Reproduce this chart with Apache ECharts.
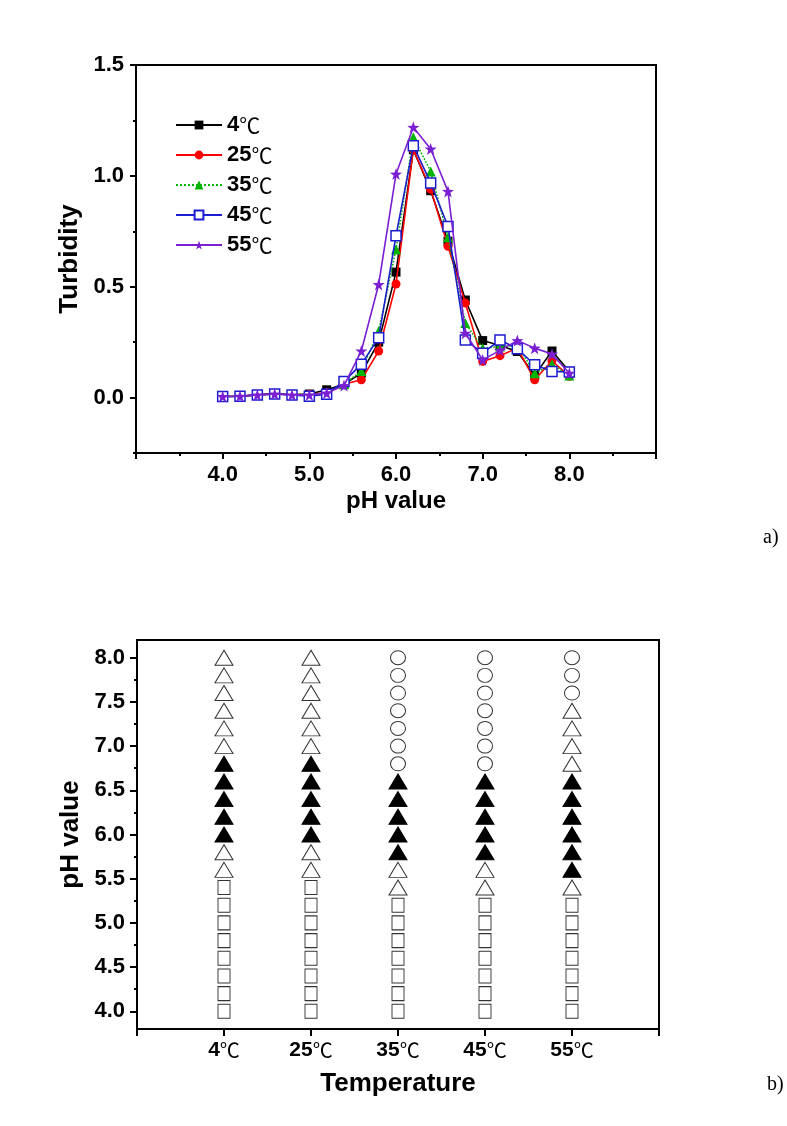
<!DOCTYPE html>
<html>
<head>
<meta charset="utf-8">
<script src="https://cdn.jsdelivr.net/npm/echarts@6/dist/echarts.min.js"></script>
<style>html,body{margin:0;padding:0;background:#fff}#c{width:787px;height:1126px}</style>
</head>
<body>
<div id="c"></div>
<script>
// ---------- Data: panel a) turbidity vs pH ----------
const pH = [4.0,4.2,4.4,4.6,4.8,5.0,5.2,5.4,5.6,5.8,6.0,6.2,6.4,6.6,6.8,7.0,7.2,7.4,7.6,7.8,8.0];
const seriesNames = ['4℃','25℃','35℃','45℃','55℃'];
const turb4  = [0.005,0.006,0.013,0.018,0.013,0.016,0.035,0.060,0.110,0.250,0.566,1.118,0.933,0.705,0.440,0.257,0.235,0.208,0.100,0.210,0.118];
const turb25 = [0.005,0.006,0.012,0.016,0.013,0.015,0.022,0.060,0.080,0.210,0.512,1.118,0.940,0.682,0.426,0.163,0.189,0.223,0.080,0.166,0.096];
const turb35 = [0.005,0.006,0.012,0.016,0.014,0.015,0.020,0.060,0.120,0.300,0.668,1.174,1.020,0.723,0.336,0.223,0.230,0.235,0.110,0.150,0.100];
const turb45 = [0.005,0.006,0.012,0.016,0.012,0.006,0.015,0.073,0.150,0.270,0.730,1.136,0.968,0.772,0.260,0.200,0.260,0.220,0.148,0.118,0.115];
const turb55 = [0.005,0.006,0.012,0.016,0.012,0.012,0.020,0.054,0.210,0.510,1.008,1.219,1.121,0.930,0.290,0.170,0.213,0.257,0.223,0.196,0.110];
const xTicksA = [4,5,6,7,8];
const yLabelsA = [0, 0.5, 1.0, 1.5];
const yMinorA = [-0.25, 0.25, 0.75, 1.25];

// ---------- Data: panel b) phase state per temperature ----------
// S = open square, T = open triangle, F = filled triangle, C = open circle (pH 4.0 .. 8.0, step 0.2)
const tempLabels = ['4℃','25℃','35℃','45℃','55℃'];
const state4  = ['S','S','S','S','S','S','S','S','T','T','F','F','F','F','F','T','T','T','T','T','T'];
const state25 = ['S','S','S','S','S','S','S','S','T','T','F','F','F','F','F','T','T','T','T','T','T'];
const state35 = ['S','S','S','S','S','S','S','T','T','F','F','F','F','F','C','C','C','C','C','C','C'];
const state45 = ['S','S','S','S','S','S','S','T','T','F','F','F','F','F','C','C','C','C','C','C','C'];
const state55 = ['S','S','S','S','S','S','S','T','F','F','F','F','F','F','T','T','T','T','C','C','C'];
const yLabelsB = [4.0,4.5,5.0,5.5,6.0,6.5,7.0,7.5,8.0];
const yMinorB = [4.25,4.75,5.25,5.75,6.25,6.75,7.25,7.75];

// ---------- build ----------
const FONT = 'Liberation Sans, Arial, sans-serif';
const CFONT = 'Noto Sans CJK SC';
const richLegend = {
  n: {fontFamily: FONT, fontWeight: 'bold', fontSize: 22, color: '#000'},
  c: {fontFamily: CFONT, fontWeight: 'normal', fontSize: 21, color: '#000'}
};
const richTick = {
  n: {fontFamily: FONT, fontWeight: 'bold', fontSize: 21, color: '#000'},
  c: {fontFamily: CFONT, fontWeight: 'normal', fontSize: 20, color: '#000'}
};
function tempRich(s) { return '{n|' + s.replace('℃','') + '}{c|℃}'; }

const turbData = [turb4, turb25, turb35, turb45, turb55];
const colors = ['#000000', '#ff0000', '#00b400', '#1c1cd0', '#7a1fd2'];
const symbols = ['rect', 'circle', 'triangle', 'rect', 'path://M0,-10L2.35,-3.24L9.51,-3.09L3.8,1.24L5.88,8.09L0,4L-5.88,8.09L-3.8,1.24L-9.51,-3.09L-2.35,-3.24Z'];
const symSizes = [9, 9, 10, 10, 12];

const seriesA = turbData.map((arr, i) => ({
  name: seriesNames[i],
  type: 'line',
  xAxisIndex: 0, yAxisIndex: 0,
  data: pH.map((p, j) => [p, arr[j]]),
  symbol: symbols[i],
  symbolSize: symSizes[i],
  showSymbol: true,
  lineStyle: {color: colors[i], width: 1.6, type: i === 2 ? 'dotted' : 'solid'},
  itemStyle: i === 3 ? {color: '#ffffff', borderColor: colors[i], borderWidth: 1.5}
                     : {color: colors[i], borderColor: colors[i], borderWidth: 0},
  emphasis: {disabled: true},
  z: 3 + i
}));

const states = [state4, state25, state35, state45, state55];
function pts(code) {
  const out = [];
  states.forEach((col, k) => col.forEach((s, j) => { if (s === code) out.push([k + 1, pH[j]]); }));
  return out;
}
const seriesB = [
  {type: 'scatter', xAxisIndex: 1, yAxisIndex: 2, data: pts('S'), symbol: 'rect', symbolSize: [12, 14],
   itemStyle: {color: '#fff', borderColor: '#000', borderWidth: 1}},
  {type: 'scatter', xAxisIndex: 1, yAxisIndex: 2, data: pts('T'), symbol: 'triangle', symbolSize: [18, 15],
   itemStyle: {color: '#fff', borderColor: '#000', borderWidth: 1}},
  {type: 'scatter', xAxisIndex: 1, yAxisIndex: 2, data: pts('F'), symbol: 'triangle', symbolSize: [18, 15],
   itemStyle: {color: '#000', borderColor: '#000', borderWidth: 1, opacity: 1}},
  {type: 'scatter', xAxisIndex: 1, yAxisIndex: 2, data: pts('C'), symbol: 'circle', symbolSize: [15, 14],
   itemStyle: {color: '#fff', borderColor: '#000', borderWidth: 1}}
].map(s => Object.assign(s, {emphasis: {disabled: true}, silent: true}));

const axisLine = {show: true, onZero: false, lineStyle: {color: '#000', width: 2}};
const labelStyle = {fontFamily: FONT, fontWeight: 'bold', fontSize: 22, color: '#000'};
const nameStyle = {fontFamily: FONT, fontWeight: 'bold', fontSize: 26, color: '#000'};

const option = {
  animation: false,
  backgroundColor: '#fff',
  grid: [
    {left: 136, top: 65, width: 520, height: 388, show: true, borderColor: '#000', borderWidth: 2, backgroundColor: 'transparent'},
    {left: 137, top: 640, width: 522, height: 389, show: true, borderColor: '#000', borderWidth: 2, backgroundColor: 'transparent'}
  ],
  legend: {
    orient: 'vertical', left: 170, top: 109,
    data: seriesNames,
    itemWidth: 46, itemHeight: 11, itemGap: 8,
    formatter: tempRich,
    textStyle: {lineHeight: 22, rich: richLegend},
    selectedMode: false
  },
  xAxis: [
    {gridIndex: 0, type: 'value', min: 3, max: 9, interval: 1,
     axisLine: axisLine,
     axisTick: {show: true, inside: false, length: 6, lineStyle: {color: '#000', width: 2}},
     minorTick: {show: true, splitNumber: 2, length: 3, lineStyle: {color: '#000', width: 2}},
     splitLine: {show: false}, minorSplitLine: {show: false},
     axisLabel: Object.assign({margin: 11, showMinLabel: true, showMaxLabel: true,
       formatter: v => (xTicksA.indexOf(v) >= 0 ? v.toFixed(1) : '')}, labelStyle),
     name: 'pH value', nameLocation: 'middle', nameGap: 36, nameTextStyle: Object.assign({}, nameStyle, {fontSize: 24})},
    {gridIndex: 1, type: 'value', min: 0, max: 6, interval: 1,
     axisLine: axisLine,
     axisTick: {show: true, inside: false, length: 7, lineStyle: {color: '#000', width: 2}},
     splitLine: {show: false},
     axisLabel: {margin: 11, formatter: v => (v >= 1 && v <= 5 ? tempRich(tempLabels[v - 1]) : ''), rich: richTick},
     name: 'Temperature', nameLocation: 'middle', nameGap: 42, nameTextStyle: nameStyle}
  ],
  yAxis: [
    {gridIndex: 0, type: 'value', min: -0.25, max: 1.5,
     axisLine: axisLine,
     axisTick: {show: true, inside: false, length: 6, customValues: yLabelsA, lineStyle: {color: '#000', width: 2}},
     splitLine: {show: false},
     axisLabel: Object.assign({margin: 12, customValues: yLabelsA, formatter: v => v.toFixed(1)}, labelStyle),
     name: 'Turbidity', nameLocation: 'middle', nameGap: 48, nameTextStyle: nameStyle},
    {gridIndex: 0, type: 'value', min: -0.25, max: 1.5, position: 'left',
     axisLine: {show: false},
     axisTick: {show: true, inside: false, length: 3, customValues: yMinorA, lineStyle: {color: '#000', width: 2}},
     axisLabel: {show: false, customValues: yMinorA}, splitLine: {show: false}},
    {gridIndex: 1, type: 'value', min: 3.8, max: 8.2,
     axisLine: axisLine,
     axisTick: {show: true, inside: false, length: 7, customValues: yLabelsB, lineStyle: {color: '#000', width: 2}},
     splitLine: {show: false},
     axisLabel: Object.assign({margin: 12, customValues: yLabelsB, formatter: v => v.toFixed(1)}, labelStyle),
     name: 'pH value', nameLocation: 'middle', nameGap: 52, nameTextStyle: nameStyle},
    {gridIndex: 1, type: 'value', min: 3.8, max: 8.2, position: 'left',
     axisLine: {show: false},
     axisTick: {show: true, inside: false, length: 3, customValues: yMinorB, lineStyle: {color: '#000', width: 2}},
     axisLabel: {show: false, customValues: yMinorB}, splitLine: {show: false}}
  ],
  graphic: [
    {type: 'text', left: 763, top: 528, style: {text: 'a)', font: '20px "Liberation Serif", serif', fill: '#000'}},
    {type: 'text', left: 767, top: 1075, style: {text: 'b)', font: '20px "Liberation Serif", serif', fill: '#000'}}
  ],
  series: seriesA.concat(seriesB)
};

const chart = echarts.init(document.getElementById('c'), null, {renderer: 'canvas'});
chart.setOption(option);
</script>
</body>
</html>
